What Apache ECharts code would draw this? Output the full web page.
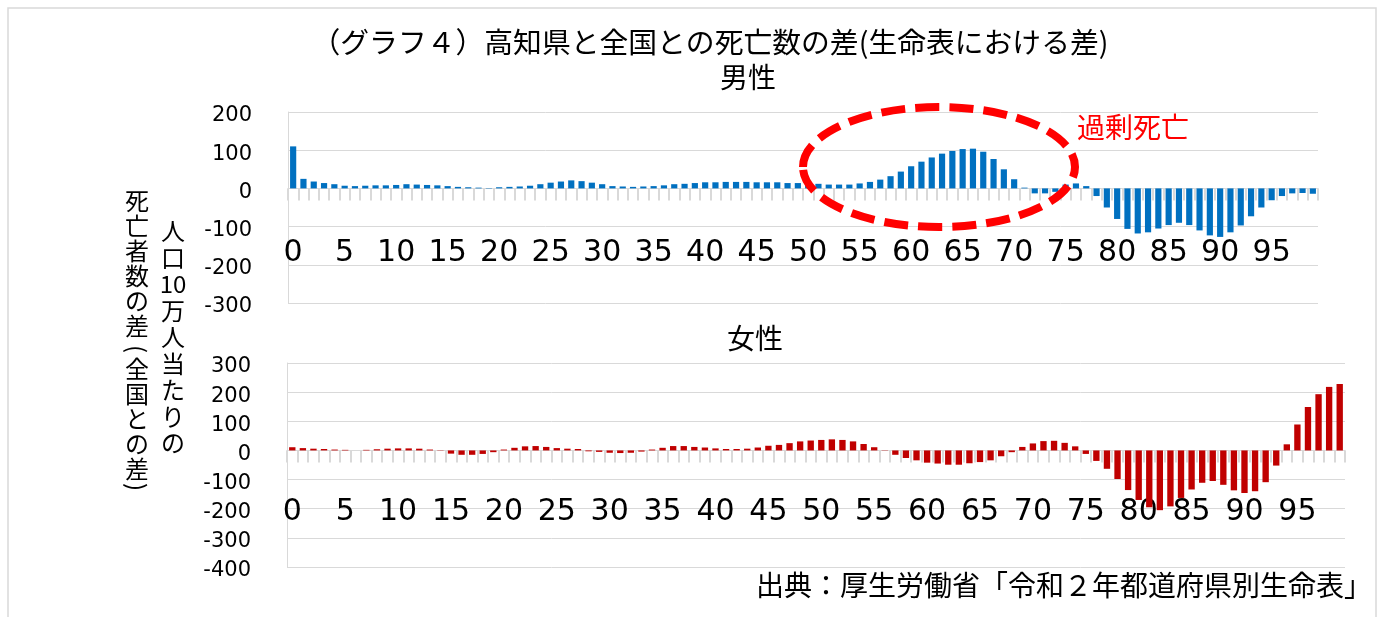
<!DOCTYPE html>
<html>
<head>
<meta charset="utf-8">
<script src="https://cdn.jsdelivr.net/npm/echarts@6/dist/echarts.min.js"></script>
<style>
html,body{margin:0;padding:0;background:#fff;}
#chart{width:1384px;height:617px;}
</style>
</head>
<body>
<div id="chart"></div>
<script>
// Ages (categories)
var ages = ['0','1','2','3','4','5','6','7','8','9','10','11','12','13','14','15','16','17','18','19',
'20','21','22','23','24','25','26','27','28','29','30','31','32','33','34','35','36','37','38','39',
'40','41','42','43','44','45','46','47','48','49','50','51','52','53','54','55','56','57','58','59',
'60','61','62','63','64','65','66','67','68','69','70','71','72','73','74','75','76','77','78','79',
'80','81','82','83','84','85','86','87','88','89','90','91','92','93','94','95','96','97','98','99'];

// 男性: difference in deaths per 100k (Kochi - national)
var maleDiff = [110,25,18,14,11,7,6,7,8,8,9,11,10,9,8,6,4,3,2,1,
3,4,5,7,11,15,18,21,19,15,11,6,5,4,5,6,8,11,12,14,
16,16,17,17,17,16,16,16,14,14,13,12,10,10,10,13,17,23,32,44,
58,70,81,91,98,103,104,96,77,50,24,2,-13,-13,-9,10,13,6,-20,-50,
-80,-106,-118,-115,-105,-96,-90,-96,-110,-123,-127,-115,-97,-73,-50,-31,-20,-13,-12,-14];

// 女性
var femaleDiff = [11,8,6,5,3,2,0,2,4,6,7,7,6,3,1,-11,-15,-15,-12,-6,
3,9,14,15,12,8,6,5,-3,-5,-8,-9,-8,-4,3,9,15,15,12,10,
7,5,5,6,10,16,19,25,31,34,36,38,36,31,22,11,1,-15,-26,-34,
-42,-45,-49,-49,-44,-40,-34,-20,-6,12,24,32,33,26,14,-12,-36,-63,-98,-136,
-170,-195,-205,-192,-163,-134,-111,-105,-118,-137,-146,-140,-109,-52,21,89,149,193,218,228];

// Axis ranges / ticks
var maleAxis = {min:-300, max:200, interval:100};
var femaleAxis = {min:-400, max:300, interval:100};

var FONT_LATIN = "'DejaVu Sans', 'Noto Sans CJK JP', sans-serif";
var FONT_JP = "'Noto Sans CJK JP', 'DejaVu Sans', sans-serif";
var GRID_COLOR = '#d9d9d9';

function xAxisCfg(idx, margin){
  return {
    type:'category', gridIndex: idx, data: ages,
    axisLine:{show:true, onZero:true, lineStyle:{color:GRID_COLOR, width:1}},
    axisTick:{show:true, interval:0, length:12, lineStyle:{color:GRID_COLOR, width:2}},
    axisLabel:{interval:4, margin: margin, fontSize:30, color:'#000', fontFamily:FONT_LATIN},
    splitLine:{show:false}
  };
}
function yAxisCfg(idx, r, margin){
  return {
    type:'value', gridIndex: idx, min:r.min, max:r.max, interval:r.interval,
    axisLine:{show:true, lineStyle:{color:GRID_COLOR, width:1}},
    axisTick:{show:false},
    splitLine:{show:true, lineStyle:{color:GRID_COLOR, width:1}},
    axisLabel:{margin: margin, fontSize:21, color:'#000', fontFamily:FONT_LATIN,
               verticalAlign:'top', lineHeight:8}
  };
}

function jpText(text, x, y, extra){
  var s = {text:text, x:x, y:y, textAlign:'center', textVerticalAlign:'middle',
           fontSize:28, fontFamily:FONT_JP, fill:'#000'};
  for (var k in (extra||{})) s[k] = extra[k];
  return {type:'text', z:10, silent:true, style:s};
}

var chart = echarts.init(document.getElementById('chart'), null, {renderer:'canvas'});
var option = {
  animation:false,
  backgroundColor:'#fff',
  grid:[
    {left:288, right:66, top:112, height:191, outerBoundsMode:'none', containLabel:false},
    {left:287, right:39, top:363, height:204, outerBoundsMode:'none', containLabel:false}
  ],
  xAxis:[xAxisCfg(0, -65), xAxisCfg(1, -70)],
  yAxis:[yAxisCfg(0, maleAxis, 36), yAxisCfg(1, femaleAxis, 36)],
  series:[
    {name:'男性', type:'bar', xAxisIndex:0, yAxisIndex:0, data:maleDiff, barWidth:'60%',
     itemStyle:{color:'#0070C0'}},
    {name:'女性', type:'bar', xAxisIndex:1, yAxisIndex:1, data:femaleDiff, barWidth:'60%',
     itemStyle:{color:'#C00000'}}
  ],
  graphic:[
    {type:'rect', z:0, silent:true, shape:{x:8, y:8, width:1368, height:660},
     style:{fill:'none', stroke:GRID_COLOR, lineWidth:1.5}},
    jpText('（グラフ４）高知県と全国との死亡数の差(生命表における差)', 710, 42, {fontSize:28.8}),
    jpText('男性', 748, 77),
    jpText('女性', 755, 338),
    jpText('過剰死亡', 1077, 127, {textAlign:'left', fill:'#FF0000'}),
    jpText('出典：厚生労働省「令和２年都道府県別生命表」', 1372, 585, {textAlign:'right'}),
    jpText('人\n口\n10\n万\n人\n当\nた\nり\nの', 173, 218, {textVerticalAlign:'top', fontSize:24, lineHeight:26.5}),
    jpText('死\n亡\n者\n数\nの\n差', 137, 188, {textVerticalAlign:'top', fontSize:24, lineHeight:25}),
    {type:'text', z:10, silent:true, x:137, y:349, rotation:-Math.PI/2,
     style:{text:'(', x:0, y:0, textAlign:'center', textVerticalAlign:'middle', fontSize:24, fontFamily:FONT_JP, fill:'#000'}},
    jpText('全\n国\nと\nの\n差', 137, 356, {textVerticalAlign:'top', fontSize:24, lineHeight:25}),
    {type:'text', z:10, silent:true, x:137, y:487, rotation:-Math.PI/2,
     style:{text:')', x:0, y:0, textAlign:'center', textVerticalAlign:'middle', fontSize:24, fontFamily:FONT_JP, fill:'#000'}},
    {type:'ellipse', z:20, silent:true, shape:{cx:939, cy:167, rx:136, ry:60},
     style:{fill:'none', stroke:'#FF0000', lineWidth:8, lineDash:[24,10]}}
  ]
};
chart.setOption(option);
</script>
</body>
</html>
